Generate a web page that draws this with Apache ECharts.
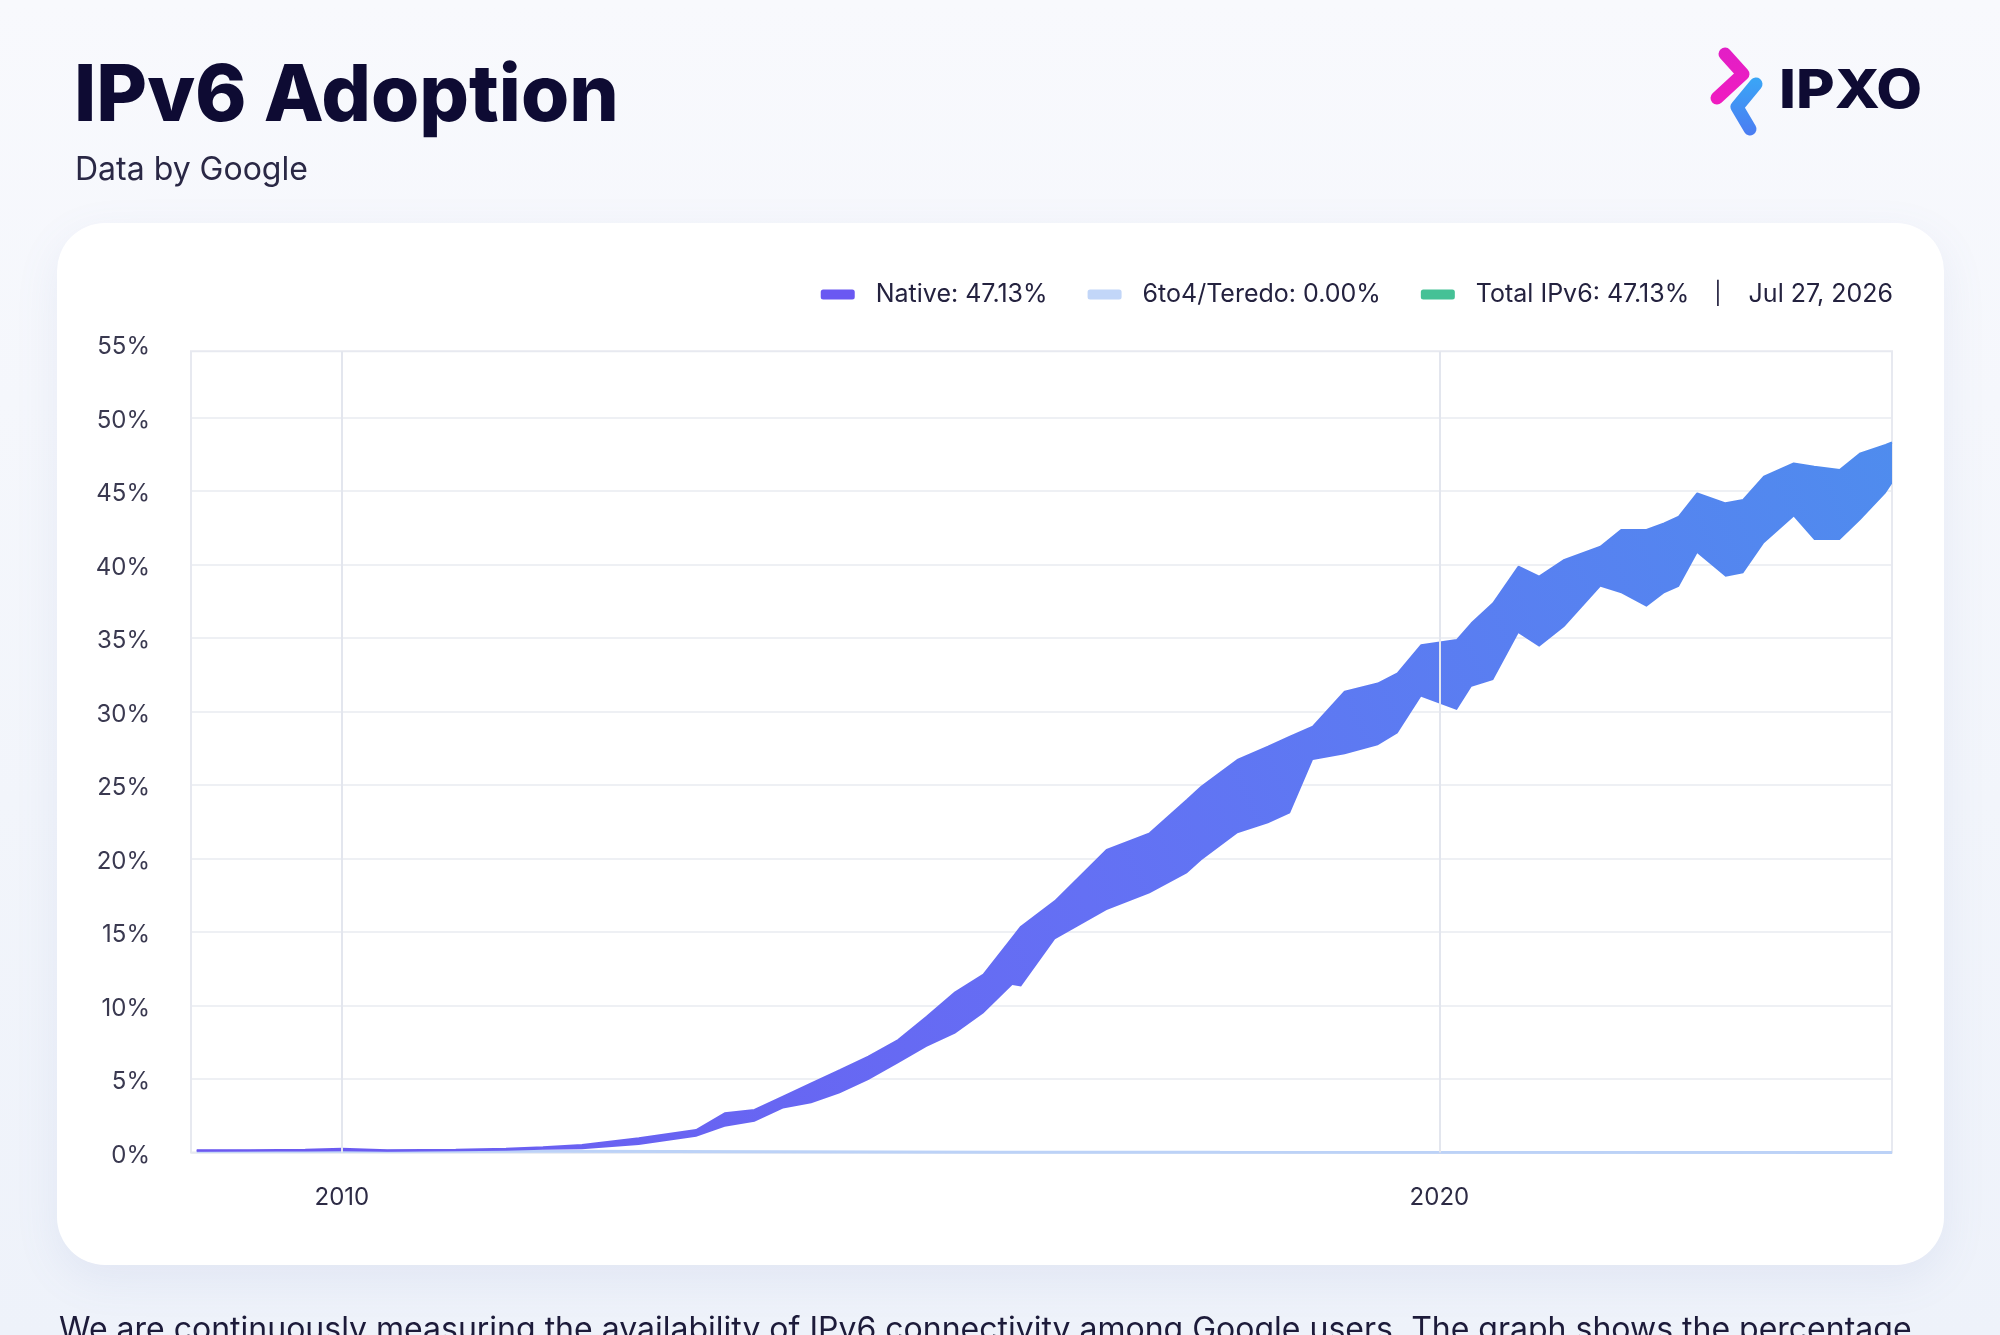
<!DOCTYPE html>
<html>
<head>
<meta charset="utf-8">
<title>IPv6 Adoption</title>
<script src="https://cdn.jsdelivr.net/npm/echarts@6/dist/echarts.min.js"></script>
<style>
  html, body { margin: 0; padding: 0; }
  body {
    width: 2000px; height: 1335px; overflow: hidden; position: relative;
    background: linear-gradient(180deg, #f8f9fd 0%, #f2f5fb 60%, #eef2fa 100%);
    font-family: Inter, "Noto Sans", sans-serif;
  }
  #card {
    position: absolute; left: 57px; top: 223px; width: 1887px; height: 1042px;
    background: #ffffff; border-radius: 48px;
    box-shadow: 0 14px 44px rgba(110, 130, 190, 0.10);
  }
  #chart { position: absolute; left: 0; top: 0; width: 2000px; height: 1335px; }
  #note {
    position: absolute; left: 59px; top: 1313px; white-space: nowrap;
    font-size: 32px; line-height: 32px; color: #1d1b3a;
  }
</style>
</head>
<body>
<div id="card"></div>
<div id="chart"></div>
<div id="note">We are continuously measuring the availability of IPv6 connectivity among Google users. The graph shows the percentage</div>
<script>
// envelope of the daily native IPv6 share (weekday low / weekend high)
var dates = ['2008-09-05','2009-03-01','2009-09-01','2010-01-01','2010-06-01','2011-01-15','2011-07-01','2011-11-01',
  '2012-03-10','2012-09-15','2013-03-25','2013-06-28','2013-10-05','2014-01-08','2014-04-12','2014-07-16',
  '2014-10-19','2015-01-26','2015-05-01','2015-08-04','2015-11-06','2016-02-10','2016-03-10','2016-07-01',
  '2016-12-20','2017-05-12','2017-09-13','2017-11-01','2018-02-28','2018-06-10','2018-08-22','2018-11-06',
  '2019-02-20','2019-06-10','2019-08-15','2019-11-01','2020-02-28','2020-04-17','2020-06-28','2020-09-20',
  '2020-11-28','2021-02-20','2021-06-20','2021-08-28','2021-11-20','2022-01-18','2022-03-08','2022-05-08',
  '2022-08-10','2022-10-08','2022-12-16','2023-03-25','2023-06-01','2023-08-25','2023-11-02','2024-01-25','2024-02-15'];
var nativeLow = [0.05,0.06,0.07,0.08,0.05,0.08,0.12,0.18,
  0.22,0.51,1.07,1.76,2.10,3.00,3.35,4.03,
  4.93,6.07,7.20,8.10,9.47,11.40,11.30,14.50,
  16.50,17.63,18.99,19.90,21.71,22.39,23.07,26.70,
  27.10,27.70,28.52,31.00,30.10,31.69,32.14,35.32,
  34.41,35.77,38.49,38.04,37.13,38.04,38.49,40.76,
  39.17,39.40,41.44,43.25,41.67,41.67,43.03,44.84,45.50];
var nativeHigh = [0.15,0.16,0.18,0.25,0.15,0.18,0.25,0.35,
  0.51,0.97,1.53,2.67,2.89,3.80,4.70,5.60,
  6.52,7.65,9.24,10.90,12.10,14.60,15.36,17.10,
  20.58,21.71,23.98,24.90,26.70,27.60,28.29,28.97,
  31.35,31.90,32.60,34.50,34.86,36.00,37.36,39.85,
  39.17,40.31,41.21,42.35,42.35,42.80,43.25,44.84,
  44.16,44.39,45.97,46.88,46.65,46.43,47.56,48.13,48.30];
var teredoDates = ['2008-09-05','2010-01-01','2012-01-01','2014-01-01','2016-01-01','2018-01-01','2024-02-15'];
var teredo = [0.08,0.10,0.08,0.05,0.02,0.01,0.00];

var legendNames = ['Native','6to4/Teredo','Total IPv6'];
var legendValues = ['47.13%','0.00%','47.13%'];
var legendColors = ['#6a58f2','#c2d6f8','#45c196'];
var lastDate = 'Jul 27, 2026';
var yearTicks = ['2010-01-01','2020-01-01'];
var yearLabels = ['2010','2020'];
var xRange = ['2008-08-17','2024-02-15'];
var plotTop = 54.5;   // the plot frame stops a little under the 55% tick

var FONT = 'Inter, "Noto Sans", sans-serif';

function Pair(d, v){ return [d, v]; }
var baseData = [], bandData = [], teredoData = [];
for (var i = 0; i < dates.length; i++) {
  baseData.push(Pair(dates[i], nativeLow[i]));
  bandData.push(Pair(dates[i], +(nativeHigh[i] - nativeLow[i]).toFixed(2)));
}
for (var j = 0; j < teredoDates.length; j++) teredoData.push(Pair(teredoDates[j], teredo[j]));

var chart = echarts.init(document.getElementById('chart'), null, {renderer: 'canvas'});

var bandColor = new echarts.graphic.LinearGradient(0, 1, 1, 0, [
  {offset: 0, color: '#6c57f0'},
  {offset: 0.5, color: '#6470f4'},
  {offset: 1, color: '#4f8cee'}
]);

var option = {
  backgroundColor: 'transparent',
  animation: false,
  title: [
    {text: 'IPv6 Adoption', left: 69, top: 54,
      textStyle: {fontFamily: FONT, fontSize: 78, fontWeight: 800, color: '#0e0b33'}},
    {text: 'Data by Google', left: 70, top: 149,
      textStyle: {fontFamily: FONT, fontSize: 32, fontWeight: 400, color: '#2a2845'}}
  ],
  legend: {
    right: 102, top: 277,
    icon: 'roundRect', itemWidth: 34, itemHeight: 10, itemGap: 40,
    selectedMode: false,
    data: legendNames.map(function(n, k){
      return {name: n, itemStyle: {color: legendColors[k], borderWidth: 0}, lineStyle: {width: 0}};
    }),
    formatter: function(name){
      var k = legendNames.indexOf(name);
      var s = name + ': ' + legendValues[k];
      if (k == legendNames.length - 1) s += '{sep||}' + lastDate;
      return s;
    },
    textStyle: {
      fontFamily: FONT, fontSize: 25, color: '#24223f', padding: [0, 0, 0, 16],
      rich: {sep: {fontFamily: FONT, fontSize: 22, color: '#24223f', padding: [0, 27, 0, 25]}}
    }
  },
  grid: {
    left: 191, right: 108, top: 344, bottom: 182.5,
    show: false
  },
  xAxis: {
    type: 'time',
    min: xRange[0], max: xRange[1],
    axisLine: {show: false}, axisTick: {show: false},
    axisLabel: {show: false}, splitLine: {show: false}
  },
  yAxis: {
    type: 'value', min: 0, max: 55, interval: 5,
    axisLine: {show: false}, axisTick: {show: false},
    axisLabel: {
      formatter: '{value}%', fontFamily: FONT, fontSize: 24, color: '#3a3950',
      margin: 41, verticalAlign: 'top', lineHeight: 6
    },
    splitLine: {showMaxLine: false, lineStyle: {color: '#eef0f4', width: 2}}
  },
  series: [
    {
      name: '6to4/Teredo', type: 'line', data: teredoData, z: 1,
      symbol: 'none', silent: true,
      itemStyle: {color: legendColors[1]},
      lineStyle: {color: '#bcd2f7', width: 3},
      markLine: {
        silent: true, symbol: ['none', 'none'],
        lineStyle: {type: 'solid', color: '#e3e6ee', width: 2},
        label: {
          show: true, position: 'start', distance: 33,
          fontFamily: FONT, fontSize: 24, color: '#2d2b45',
          formatter: function(p){ return yearLabels[p.dataIndex]; }
        },
        data: yearTicks.map(function(d){ return [{xAxis: d, yAxis: 0}, {xAxis: d, yAxis: plotTop}]; })
      },
      markArea: {
        silent: true,
        itemStyle: {color: 'rgba(0,0,0,0)', borderColor: '#e7e9f0', borderWidth: 2},
        data: [[{xAxis: xRange[0], yAxis: 0}, {xAxis: xRange[1], yAxis: plotTop}]]
      }
    },
    {
      name: 'nativeBase', type: 'line', stack: 'native', data: baseData, z: 3,
      symbol: 'none', silent: true,
      lineStyle: {opacity: 0}, areaStyle: {opacity: 0}
    },
    {
      name: 'Native', type: 'line', stack: 'native', data: bandData, z: 3,
      symbol: 'none', silent: true,
      itemStyle: {color: legendColors[0]},
      lineStyle: {color: bandColor, width: 2},
      areaStyle: {color: bandColor, opacity: 1}
    },
    {
      name: 'Total IPv6', type: 'line', data: [], symbol: 'none',
      itemStyle: {color: legendColors[2]}
    }
  ],
  graphic: [
    {type: 'polyline', z: 10, shape: {points: [[1725, 54], [1743, 74], [1717, 98]]},
      style: {fill: null, lineWidth: 13, lineCap: 'round', lineJoin: 'round',
        stroke: new echarts.graphic.LinearGradient(0, 0, 0, 1, [{offset: 0, color: '#e21fc6'}, {offset: 1, color: '#f01cc0'}])}},
    {type: 'polyline', z: 10, shape: {points: [[1756, 84], [1737, 107], [1750, 129]]},
      style: {fill: null, lineWidth: 13, lineCap: 'round', lineJoin: 'round',
        stroke: new echarts.graphic.LinearGradient(0, 0, 0, 1, [{offset: 0, color: '#3aa6f6'}, {offset: 1, color: '#4b7cf2'}])}},
    {type: 'text', z: 10, x: 1779, y: 92, scaleX: 1.12,
      style: {text: 'IPXO', x: 0, y: 0, textVerticalAlign: 'middle',
        font: '800 53px ' + FONT, fill: '#0e0b33'}}
  ]
};

chart.setOption(option);
</script>
</body>
</html>
